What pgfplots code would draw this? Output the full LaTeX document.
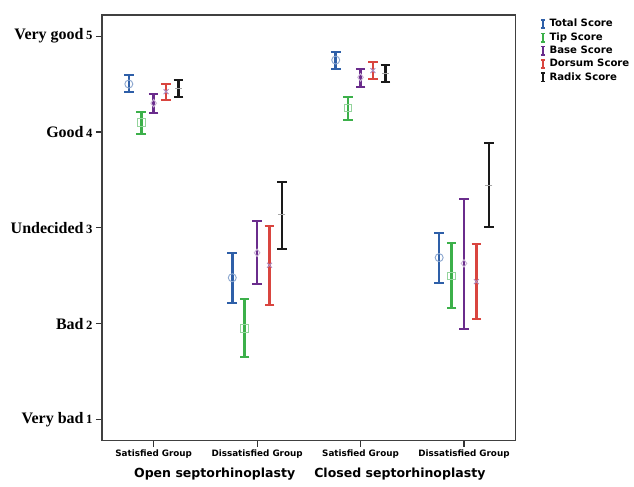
\documentclass[border=0pt]{standalone}
\usepackage{pgfplots}
\pgfplotsset{compat=1.18}
\usepackage{fontspec}
\setmainfont{Liberation Serif}
\newfontfamily\dv{DejaVu Sans}

\definecolor{cTotal}{HTML}{2E5FA8}
\definecolor{cTip}{HTML}{3CB04A}
\definecolor{cBase}{HTML}{6A2C8C}
\definecolor{cDorsum}{HTML}{D9453F}
\definecolor{cRadix}{HTML}{1A1A1A}
\newcommand{\num}[1]{\,{\fontsize{9.5}{10}\selectfont #1}}

% x = group position + offset; ep/em = upper/lower CI distance
\pgfplotstableread{
x y ep em
-0.24 4.50 0.09 0.08
0.76 2.48 0.26 0.26
1.76 4.75 0.08 0.09
2.76 2.69 0.26 0.26
}\total
\pgfplotstableread{
x y ep em
-0.12 4.10 0.11 0.12
0.88 1.95 0.31 0.30
1.88 4.25 0.12 0.13
2.88 2.50 0.34 0.34
}\tip
\pgfplotstableread{
x y ep em
0.00 4.30 0.10 0.10
1.00 2.74 0.33 0.33
2.00 4.57 0.09 0.10
3.00 2.63 0.67 0.68
}\base
\pgfplotstableread{
x y ep em
0.12 4.42 0.08 0.09
1.12 2.61 0.41 0.41
2.12 4.64 0.09 0.09
3.12 2.44 0.39 0.39
}\dorsum
\pgfplotstableread{
x y ep em
0.24 4.45 0.09 0.09
1.24 3.14 0.34 0.36
2.24 4.61 0.09 0.09
3.24 3.44 0.44 0.43
}\radix

\begin{document}
\begin{tikzpicture}
\begin{axis}[
  scale only axis,
  width=310.5pt, height=319.5pt,
  xmin=-0.5, xmax=3.5, ymin=0.78, ymax=5.22,
  xtick={0,1,2,3},
  xticklabels={Satisfied Group, Dissatisfied Group, Satisfied Group, Dissatisfied Group},
  ytick={1,2,3,4,5},
  yticklabels={{Very bad\num{1}}, {Bad\num{2}}, {Undecided\num{3}}, {Good\num{4}}, {Very good\num{5}}},
  yticklabel style={font=\bfseries\fontsize{12}{13}\selectfont, xshift=1pt},
  xticklabel style={font=\dv\bfseries\fontsize{6.6}{7}\selectfont, yshift=1pt},
  tick align=outside, xtick pos=bottom, ytick pos=left,
  major tick length=4.5pt,
  tick style={line width=0.8pt, black!80},
  axis line style={line width=1pt, black!75},
  clip=false,
  legend style={at={(rel axis cs:1.055,1.0)}, anchor=north west, draw=none, fill=none,
    font=\dv\bfseries\fontsize{7.6}{8}\selectfont, row sep=-1.2pt, inner sep=1pt,
    nodes={inner xsep=2.5pt}},
  legend cell align=left,
  legend image code/.code={
    \draw[#1, line width=1.6pt, mark=none] (0.08cm,-0.11cm) -- (0.08cm,0.11cm);
    \draw[#1, line width=1.2pt, mark=none] (0.02cm,0.11cm) -- (0.14cm,0.11cm);
    \draw[#1, line width=1.2pt, mark=none] (0.02cm,-0.11cm) -- (0.14cm,-0.11cm);
  },
  error bars/y dir=both, error bars/y explicit,
  error bars/error bar style={line width=1.9pt},
  error bars/error mark options={line width=1.5pt, mark size=3.6pt, rotate=90},
]
\addplot[only marks, color=cTotal, mark=o, mark size=3pt, mark options={cTotal!55, line width=0.7pt}]
  table[x=x, y=y, y error plus=ep, y error minus=em] {\total};
\addplot[only marks, color=cTip, mark=square, mark size=2.8pt, mark options={cTip!55, line width=0.7pt}]
  table[x=x, y=y, y error plus=ep, y error minus=em] {\tip};
\addplot[only marks, color=cBase, mark=diamond, mark size=2.8pt, mark options={cBase!35, line width=0.7pt}]
  table[x=x, y=y, y error plus=ep, y error minus=em] {\base};
\addplot[only marks, color=cDorsum, mark=x, mark size=2.6pt, mark options={cBase!55, line width=0.7pt}]
  table[x=x, y=y, y error plus=ep, y error minus=em] {\dorsum};
\addplot[only marks, color=cRadix, mark=-, mark size=2.6pt, mark options={black!35, line width=0.7pt}]
  table[x=x, y=y, y error plus=ep, y error minus=em] {\radix};
\legend{Total Score, Tip Score, Base Score, Dorsum Score, Radix Score}
\node[font=\dv\bfseries\fontsize{9.4}{10}\selectfont] at (axis cs:0.59,0.433) {Open septorhinoplasty};
\node[font=\dv\bfseries\fontsize{9.4}{10}\selectfont] at (axis cs:2.38,0.433) {Closed septorhinoplasty};
\end{axis}
\path (-76.5pt,-34.5pt) rectangle (399pt,330.75pt);
\end{tikzpicture}
\end{document}
